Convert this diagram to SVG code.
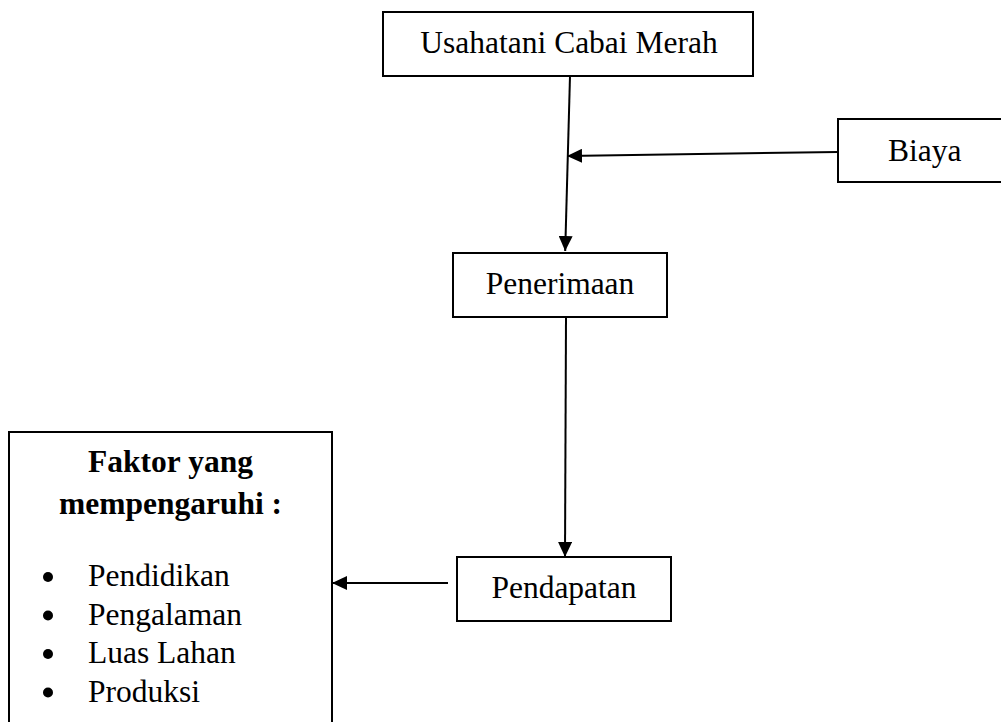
<svg xmlns="http://www.w3.org/2000/svg" width="1001" height="722" viewBox="0 0 1001 722">
<style>
.box{fill:#fff;stroke:#000;stroke-width:2}
.t{font-family:"Liberation Serif","Times New Roman",serif;font-size:31.5px;fill:#000}
.c{text-anchor:middle}
.b{font-weight:bold}
.ln{stroke:#000;stroke-width:2;fill:none}
</style>
<defs>
<marker id="ah" markerWidth="15" markerHeight="14" refX="15" refY="7" orient="auto" markerUnits="userSpaceOnUse">
<path d="M0,0 L15,7 L0,14 Z" fill="#000"/>
</marker>
</defs>
<rect width="1001" height="722" fill="#fff"/>
<g id="connectors">
<line class="ln" x1="570" y1="76" x2="565.2" y2="251" marker-end="url(#ah)"/>
<line class="ln" x1="838" y1="152" x2="567" y2="156" marker-end="url(#ah)"/>
<line class="ln" x1="566" y1="317" x2="565" y2="557" marker-end="url(#ah)"/>
<line class="ln" x1="448" y1="583" x2="332" y2="583" marker-end="url(#ah)"/>
</g>
<g id="usahatani">
<rect class="box" x="383" y="12" width="370" height="64"/>
<text class="t c" x="569" y="53">Usahatani Cabai Merah</text>
</g>
<g id="biaya">
<rect class="box" x="838" y="119" width="175" height="63"/>
<text class="t" x="888" y="161">Biaya</text>
</g>
<g id="penerimaan">
<rect class="box" x="453" y="253" width="214" height="64"/>
<text class="t c" x="560" y="294">Penerimaan</text>
</g>
<g id="pendapatan">
<rect class="box" x="457" y="557" width="214" height="64"/>
<text class="t c" x="564" y="598">Pendapatan</text>
</g>
<g id="faktor">
<rect class="box" x="9" y="432" width="323" height="300"/>
<text class="t c b" x="170.5" y="472">Faktor yang</text>
<text class="t c b" x="170.5" y="514">mempengaruhi :</text>
<circle cx="48" cy="577" r="5"/>
<circle cx="48" cy="615.5" r="5"/>
<circle cx="48" cy="654" r="5"/>
<circle cx="48" cy="692.5" r="5"/>
<text class="t" x="88" y="586">Pendidikan</text>
<text class="t" x="88" y="624.5">Pengalaman</text>
<text class="t" x="88" y="663">Luas Lahan</text>
<text class="t" x="88" y="701.5">Produksi</text>
</g>
</svg>
